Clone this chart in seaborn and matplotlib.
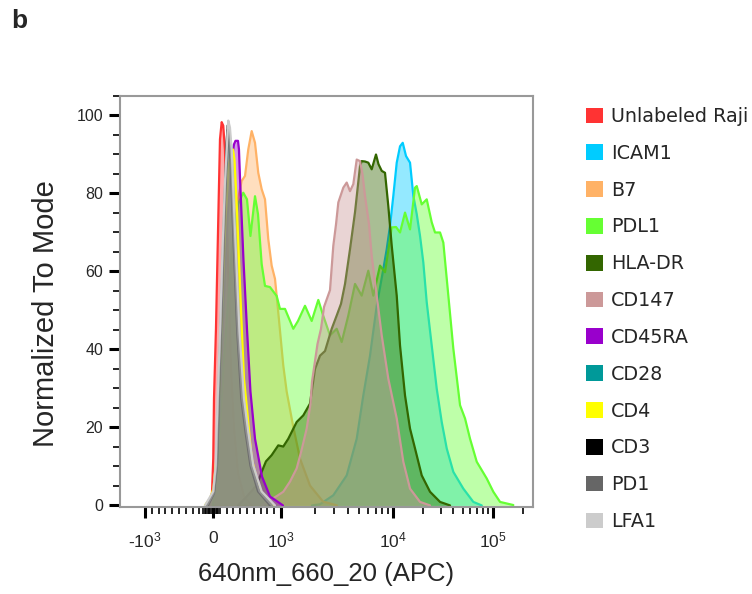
import numpy as np
import pandas as pd
import matplotlib
matplotlib.use("Agg")
import matplotlib.pyplot as plt
import seaborn as sns
from matplotlib.patches import Patch
from matplotlib.ticker import FixedLocator, FixedFormatter, MultipleLocator

# ---------------- data (fluorescence value, normalized count) ----------------
markers = ["Unlabeled Raji", "ICAM1", "B7", "PDL1", "HLA-DR", "CD147",
           "CD45RA", "CD28", "CD4", "CD3", "PD1", "LFA1"]
colors = ["#FF3333", "#00CCFF", "#FFB266", "#66FF33", "#336600", "#CC9999",
          "#9900CC", "#009999", "#FFFF00", "#000000", "#666666", "#CCCCCC"]

x_unlabeled = [-59, -15, 4, 15, 44, 84, 103, 128, 151, 176, 206, 235, 265, 309, 368, 456, 574]
y_unlabeled = [0, 3.1, 12.0, 27.4, 45.3, 78.5, 93.9, 98.3, 97.4, 91.3, 73.4, 52.9, 35.0, 19.7, 8.2, 2.3, 0]

x_icam1 = [1891, 2230, 2931, 3860, 4741, 5429, 6232, 7153, 8193, 8785, 9400, 10070, 10895, 11760,
           12520, 13510, 14820, 16000, 17310, 18683, 20160, 21810, 24490, 27500, 30860, 34650,
           40370, 50880, 64120, 77900]
y_icam1 = [0, 0.3, 2.6, 7.7, 17.1, 28.2, 38.4, 51.2, 60.6, 65.7, 71.7, 79.4, 87.9, 92.1,
           93.0, 89.6, 87.9, 79.4, 74.7, 69.1, 62.3, 52.1, 41.0, 29.9, 21.4, 14.6,
           8.6, 4.3, 0.9, 0]

x_b7 = [0, 74, 162, 279, 368, 422, 471, 519, 569, 618, 666, 716, 765, 813, 863, 912, 960,
        1048, 1124, 1280, 1478, 1815, 2371, 3162]
y_b7 = [0, 6.9, 32.5, 63.2, 78.5, 83.2, 84.5, 91.3, 96.0, 93.0, 85.3, 81.1, 78.5, 68.3, 61.5,
        58.1, 49.5, 35.9, 29.2, 20.5, 12.0, 5.1, 1.0, 0]

x_pdl1 = [0, 74, 162, 279, 368, 445, 500, 551, 618, 662, 716, 765, 838, 937, 985,
          1086, 1288, 1418, 1638, 1880, 2153, 2386, 2738, 3143, 3483, 3990, 4579, 5254,
          6017, 6668, 7653, 8482, 9737, 10720, 11760, 13200, 14820, 16640, 17310, 19430,
          21810, 24490, 26430, 29680, 32030, 35960, 40370, 47140, 52920, 59410, 69380,
          87440, 101850, 118960, 161800]
y_pdl1 = [0, 12.0, 37.6, 65.7, 77.2, 80.2, 78.5, 69.1, 79.3, 74.7, 61.9, 56.3, 56.0, 53.7, 50.4,
          50.4, 45.3, 47.3, 51.2, 47.3, 52.7, 48.6, 43.6, 45.3, 41.9, 48.7, 56.8, 53.8,
          60.2, 53.8, 61.5, 59.8, 71.3, 71.4, 70.0, 75.1, 70.8, 81.5, 81.9, 77.2,
          78.5, 72.6, 70.0, 70.0, 67.4, 53.8, 40.2, 25.7, 22.3, 17.1, 11.2,
          6.9, 3.5, 0.9, 0.1]

x_hladr = [368, 471, 574, 643, 716, 779, 863, 960, 1048, 1162, 1381, 1582, 1815, 2012, 2230,
           2472, 2836, 3143, 3433, 3728, 4131, 4579, 5074, 5254, 5623, 6017, 6453, 7047,
           7421, 7929, 8482, 9076, 9737, 10895, 11760, 13200, 14820, 16640, 19430, 23545,
           29680, 37410]
y_hladr = [0, 1.8, 3.8, 5.2, 8.6, 11.3, 12.9, 15.4, 15.1, 17.1, 21.4, 23.1, 26.1, 35.0, 38.4,
           39.6, 45.3, 48.7, 51.7, 56.8, 65.7, 75.2, 87.0, 88.3, 88.2, 87.9, 86.2, 90.0,
           87.5, 85.8, 85.3, 76.8, 66.6, 53.8, 41.0, 28.2, 19.7, 14.6, 7.7, 3.5,
           0.9, 0]

x_cd147 = [721, 838, 956, 1048, 1203, 1381, 1524, 1696, 1834, 1891, 2118, 2276, 2421, 2738,
           2931, 3099, 3249, 3600, 3860, 4131, 4421, 4741, 5074, 5342, 5623, 6104, 6453,
           7153, 7929, 9076, 10895, 12690, 14820, 18683, 23545]
y_cd147 = [0, 1.3, 2.6, 3.5, 6.1, 9.5, 14.1, 19.7, 26.1, 31.7, 41.4, 45.3, 50.9, 55.2,
           66.6, 72.1, 77.7, 81.5, 82.8, 80.6, 82.4, 88.7, 88.3, 84.9, 79.4, 72.1, 64.0,
           53.8, 43.6, 32.5, 22.3, 11.2, 4.3, 0.9, 0]

x_cd45ra = [-88, 7, 59, 103, 154, 213, 265, 309, 331, 368, 382, 397, 449, 500, 551, 618, 721, 838, 1042]
y_cd45ra = [0, 3.8, 12.0, 27.4, 50.4, 73.4, 87.5, 92.6, 93.5, 93.5, 91.3, 84.1, 62.7, 45.3, 29.2, 17.1, 7.4, 2.3, 0]

x_cd28 = [-88, 15, 66, 96, 132, 169, 206, 235, 265, 294, 338, 382, 441, 507, 588, 691, 868]
y_cd28 = [0, 3.6, 12.0, 27.4, 47.8, 70.8, 88.7, 95.9, 92.6, 82.4, 63.2, 44.0, 27.4, 17.1, 9.5, 3.6, 0]

x_cd4 = [-118, -44, 7, 51, 88, 132, 184, 235, 272, 294, 316, 346, 372, 422, 456, 500, 569, 691, 882]
y_cd4 = [0, 1.8, 4.3, 12.0, 27.4, 50.4, 73.4, 87.5, 90.8, 91.3, 88.7, 78.5, 67.5, 46.1, 32.5, 24.8, 12.0, 3.6, 0]

x_cd3 = [-74, 15, 59, 88, 118, 154, 184, 210, 235, 257, 301, 357, 416, 478, 551, 662, 838]
y_cd3 = [0, 3.1, 10.2, 27.4, 44.5, 65.7, 82.4, 96.2, 93.9, 88.7, 68.3, 44.5, 27.4, 18.9, 10.2, 3.6, 0]

x_pd1 = [-88, 7, 51, 78, 110, 147, 181, 213, 243, 265, 309, 368, 431, 493, 566, 684, 868]
y_pd1 = [0, 3.1, 10.2, 27.4, 44.5, 65.7, 83.6, 97.4, 95.7, 90.0, 69.6, 44.5, 27.4, 18.9, 10.2, 3.6, 0]

x_lfa1 = [-118, 4, 40, 54, 69, 103, 140, 176, 225, 250, 275, 324, 390, 456, 519, 593, 716, 912]
y_lfa1 = [0, 3.6, 10.2, 18.9, 27.4, 44.5, 65.7, 82.9, 98.7, 96.9, 91.3, 70.1, 44.5, 27.4, 18.9, 10.2, 3.6, 0]

xs = [x_unlabeled, x_icam1, x_b7, x_pdl1, x_hladr, x_cd147, x_cd45ra, x_cd28, x_cd4, x_cd3, x_pd1, x_lfa1]
ys = [y_unlabeled, y_icam1, y_b7, y_pdl1, y_hladr, y_cd147, y_cd45ra, y_cd28, y_cd4, y_cd3, y_pd1, y_lfa1]

major_ticks = [-1000, 0, 1000, 10000, 100000]
major_labels = ["-$10^{3}$", "0", "$10^{3}$", "$10^{4}$", "$10^{5}$"]

frames = []
for name, xv, yv in zip(markers, xs, ys):
    frames.append(pd.DataFrame({"marker": name, "value": xv, "count": yv}))
df = pd.concat(frames, ignore_index=True)

# ---------------- biexponential-like display scale ----------------
H_ANCHOR = np.array([-2.0, -1.0, 0.0, 1.0, 2.0, 3.0, 4.0])
P_ANCHOR = np.array([33.0, 145.0, 213.0, 281.0, 393.0, 492.5, 592.0])


def _h(x):
    x = np.asarray(x, dtype=float)
    a = np.abs(x)
    lg = 1.0 + np.log10(np.maximum(a, 1e-9) / 1000.0)
    return np.where(a <= 1000.0, x / 1000.0, np.sign(x) * lg)


def _hinv(h):
    h = np.asarray(h, dtype=float)
    a = np.abs(h)
    return np.where(a <= 1.0, h * 1000.0, np.sign(h) * 1000.0 * 10.0 ** (a - 1.0))


def fwd(x):
    return np.interp(_h(x), H_ANCHOR, P_ANCHOR)


def inv(p):
    return _hinv(np.interp(np.asarray(p, dtype=float), P_ANCHOR, H_ANCHOR))


# ---------------- style ----------------
sns.set_style("ticks")
plt.rcParams["font.family"] = ["Liberation Sans", "DejaVu Sans"]
plt.rcParams["mathtext.fontset"] = "custom"
plt.rcParams["mathtext.rm"] = "Liberation Sans"
plt.rcParams["mathtext.it"] = "Liberation Sans:italic"
plt.rcParams["mathtext.bf"] = "Liberation Sans:bold"

W, H = 752, 594
fig = plt.figure(figsize=(W / 100, H / 100), dpi=100)
ax = fig.add_axes([120 / W, 1 - 507 / H, (532.5 - 120) / W, (507 - 96) / H])
ax.set_xscale("function", functions=(fwd, inv))

for i, (name, color) in enumerate(zip(markers, colors)):
    sub = df[df["marker"] == name]
    ax.fill_between(sub["value"], sub["count"], 0, color=color, alpha=0.42,
                    linewidth=0, zorder=2 + 2 * i)
    sns.lineplot(data=sub, x="value", y="count", color=color, linewidth=1.6,
                 sort=False, estimator=None, ax=ax, zorder=3 + 2 * i, legend=False)

ax.set_xlim(-1670, 252000)
ax.set_ylim(-0.4, 105)

minor_ticks = (list(range(-900, -199, 100)) + [v for v in range(-140, 101, 20) if v != 0]
               + list(range(200, 1000, 100)) + list(range(2000, 10000, 1000))
               + list(range(20000, 100000, 10000)) + [200000])
ax.xaxis.set_major_locator(FixedLocator(major_ticks))
ax.xaxis.set_major_formatter(FixedFormatter(major_labels))
ax.xaxis.set_minor_locator(FixedLocator(minor_ticks))
ax.set_yticks([0, 20, 40, 60, 80, 100])
ax.yaxis.set_minor_locator(MultipleLocator(5))

ax.tick_params(axis="both", which="major", length=8, width=2.2, color="black",
               direction="out")
ax.tick_params(axis="both", which="minor", length=5, width=1.2, color="black", direction="out")
ax.tick_params(axis="x", which="major", labelsize=12.5, pad=9)
ax.tick_params(axis="y", which="major", labelsize=11.5, pad=4)

for s in ax.spines.values():
    s.set_visible(True)
    s.set_color("#999999")
    s.set_linewidth(1.5)
    s.set_zorder(100)

ax.set_xlabel("640nm_660_20 (APC)", fontsize=18.5, labelpad=8)
ax.set_ylabel("Normalized To Mode", fontsize=21, labelpad=8)
ax.yaxis.set_label_coords(-0.145, 0.47)

handles = [Patch(facecolor=c, edgecolor="none") for c in colors]
fs_px = 19.2
fig.legend(handles, markers, loc="upper left", bbox_to_anchor=(586 / W, 1 - 107 / H),
           frameon=False, prop={"family": "DejaVu Sans", "size": 13.8},
           handlelength=17 / fs_px, handleheight=17 / fs_px, handletextpad=8.4 / fs_px,
           labelspacing=0.93, borderpad=0, borderaxespad=0)

fig.text(11 / W, 1 - 9 / H, "b", fontsize=19, fontweight="bold", va="top", ha="left")

fig.savefig("out.png", dpi=100)
